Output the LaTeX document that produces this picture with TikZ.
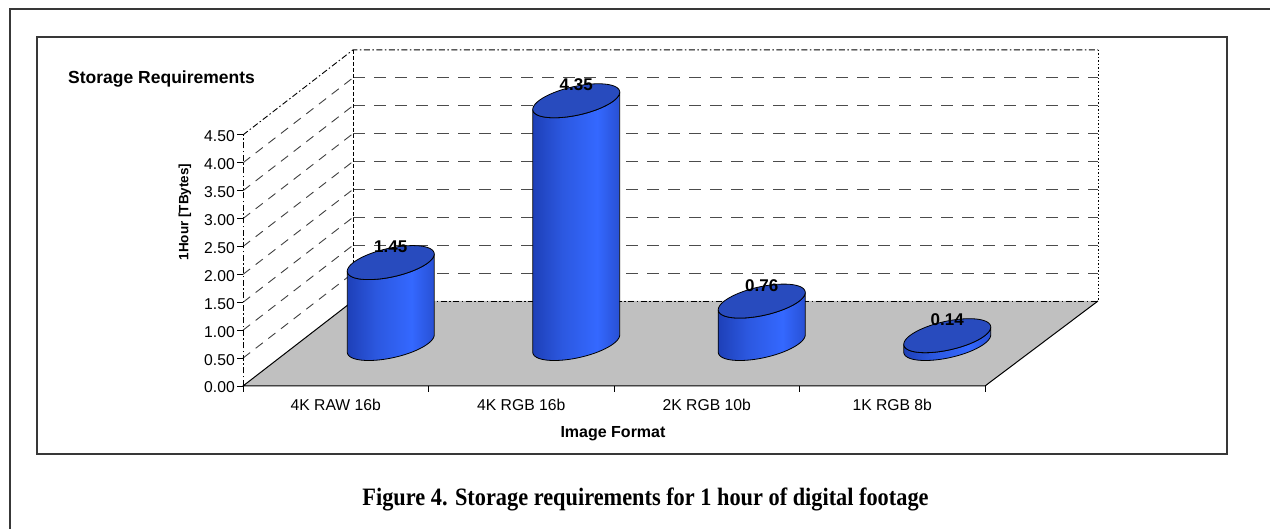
\documentclass[tikz,border=0pt]{standalone}
\usepackage{fontspec}
\usepackage{graphicx}
\setmainfont{Liberation Serif}
\newfontfamily\arial{Liberation Sans}
\definecolor{cylA}{HTML}{1E40B8}
\definecolor{cylB}{HTML}{2C58E0}
\definecolor{cylC}{HTML}{3468FF}
\definecolor{cylD}{HTML}{2850D4}
\definecolor{cyltop}{HTML}{284BBE}
\definecolor{floorgray}{HTML}{C0C0C0}
\definecolor{framegray}{HTML}{383838}
\pgfdeclarehorizontalshading{cylshade}{100bp}{color(0bp)=(cylA); color(25bp)=(cylA); color(42bp)=(cylB); color(62bp)=(cylC); color(75bp)=(cylD); color(100bp)=(cylD)}
\begin{document}
\begin{tikzpicture}[x=1pt,y=-1pt,
  gridline/.style={draw=black!70, line width=0.9pt, dash pattern=on 12pt off 9pt},
  sidegrid/.style={draw=black!75, line width=0.9pt, dash pattern=on 9pt off 7pt},
  dashdot/.style={draw=black, line width=0.9pt, dash pattern=on 6pt off 2.5pt on 1.5pt off 2.5pt},
  ticklab/.style={font=\arial\fontsize{15.7}{18}\selectfont, anchor=east, inner sep=0pt},
  catlab/.style={font=\arial\fontsize{15.7}{18}\selectfont, anchor=base, inner sep=0pt},
  vallab/.style={font=\arial\bfseries\fontsize{17}{20}\selectfont, anchor=base, inner sep=0pt},
  axtitle/.style={font=\arial\bfseries\fontsize{16}{19}\selectfont, inner sep=0pt},
  cylside/.style={shading=cylshade, draw=black, line width=0.8pt},
  cyltopface/.style={fill=cyltop, draw=black, line width=0.8pt}]
\useasboundingbox (0,0) rectangle (1270,529);
% frames
\draw[framegray, line width=1.6pt] (10,540) -- (10,9) -- (1280,9);
\draw[framegray, line width=1.5pt] (37,37) rectangle (1227,454);
% title
\node[font=\arial\bfseries\fontsize{17.5}{20}\selectfont, anchor=base west, inner sep=0pt] (title) at (68,84) {Storage Requirements};
% back wall and side wall grid
\foreach \k in {1,...,8} {
  \draw[gridline] (353,{301-27.9*\k}) -- (1098,{301-27.9*\k});
  \draw[sidegrid] (243,{386-27.9*\k}) -- (353,{301-27.9*\k});
}
\draw[dashdot] (243,134.9) -- (353,49.9) -- (1098,49.9);
\draw[black, line width=0.9pt, dash pattern=on 4pt off 2pt] (353,49.9) -- (353,301);
\draw[black, line width=0.9pt, dash pattern=on 1.5pt off 2pt] (1098,49.9) -- (1098,301);
% floor
\fill[floorgray] (243,386) -- (353,301) -- (1098,301) -- (985,386) -- cycle;
\draw[dashdot] (353,301) -- (1098,301);
\draw[black, line width=1pt] (353,301) -- (243,386) -- (985,386) -- (1098,301);
\draw[dashdot] (243,386) -- (243,134.9);
% y ticks and labels
\foreach \k/\lab in {0/0.00,1/0.50,2/1.00,3/1.50,4/2.00,5/2.50,6/3.00,7/3.50,8/4.00,9/4.50} {
  \draw[black, line width=0.9pt] (237,{386-27.9*\k}) -- (243,{386-27.9*\k});
  \node[ticklab] (y\k) at (235,{387.5-27.9*\k}) {\lab};
}
% x ticks
\foreach \xx in {243,428.5,614,799.5,985}
  \draw[black, line width=0.9pt] (\xx,386) -- (\xx,392);
% category labels
\foreach \cx/\lab/\n in {335.75/4K RAW 16b/a,521.25/4K RGB 16b/b,706.75/2K RGB 10b/c,892.25/1K RGB 8b/d}
  \node[catlab] (cat\n) at (\cx,411) {\lab};
% axis titles
\node[axtitle, anchor=base] (xtitle) at (613,437) {Image Format};
\node[font=\arial\bfseries\fontsize{13.5}{16}\selectfont, inner sep=0pt, rotate=90] (ytitle) at (185,212) {1Hour [TBytes]};
% cylinders
\foreach \cx/\v/\n in {390.75/1.45/a,576.25/4.35/b,761.75/0.76/c,947.25/0.14/d} {
  \pgfmathsetmacro\ct{343.5-55.8*\v}
  \path[cylside] plot[domain=210.39:390.39,samples=60,variable=\t] ({\cx+37.5*cos(\t)+22*sin(\t)},{343.5-17*sin(\t)})
     -- plot[domain=390.39:210.39,samples=60,variable=\t] ({\cx+37.5*cos(\t)+22*sin(\t)},{\ct-17*sin(\t)}) -- cycle;
  \path[cyltopface] plot[domain=0:360,samples=91,variable=\t] ({\cx+37.5*cos(\t)+22*sin(\t)},{\ct-17*sin(\t)}) -- cycle;
  \node[vallab] (val\n) at (\cx,{\ct-10}) {\v};
}
% caption
\node[anchor=base, inner sep=0pt, font=\bfseries\fontsize{25}{28}\selectfont] (caption) at (645.5,505) {\scalebox{0.893}[1]{Figure 4. Storage requirements for 1 hour of digital footage}};
\end{tikzpicture}
\end{document}
